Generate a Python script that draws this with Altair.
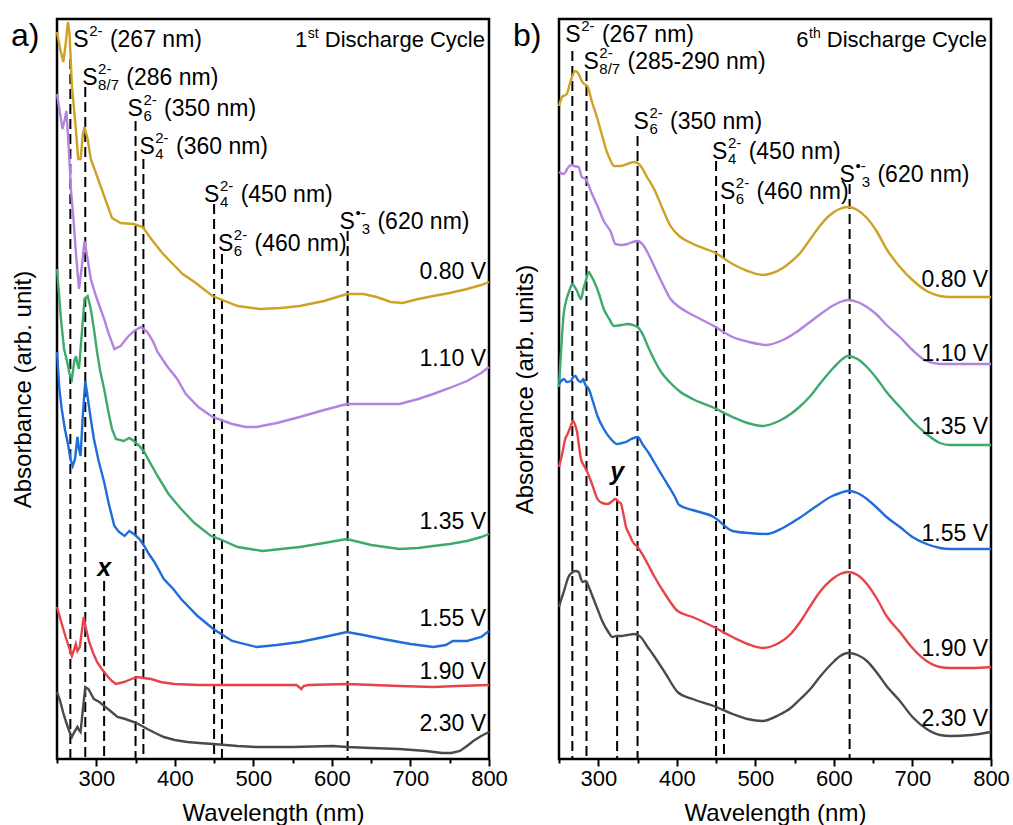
import altair as alt
import pandas as pd

FONT = "Liberation Sans"

VOLTAGES = ["0.80 V", "1.10 V", "1.35 V", "1.55 V", "1.90 V", "2.30 V"]
COLORS = ["#CFA125", "#B482E0", "#3DAA6B", "#1F6CDB", "#E8434A", "#4A4A4A"]

# ---- 1st discharge cycle: wavelength (nm) and stacked absorbance (arb. unit) ----
a080_wl = [250, 254, 258, 261, 264, 266, 269, 274, 277, 280, 283, 285, 289, 293, 300, 310, 320, 331, 348, 359, 370, 384, 395, 410, 425, 448, 480, 508, 535, 559, 590, 619, 640, 657, 675, 690, 710, 729, 750, 772, 790, 800]
a080_ab = [727, 710, 697, 715, 737, 725, 673, 630, 600, 600, 625, 632, 620, 600, 585, 563, 541, 536, 535, 532, 520, 506, 497, 485, 477, 463, 453, 450, 451, 453, 458, 465, 465, 462, 457, 456, 460, 463, 466, 470, 474, 477]

a110_wl = [250, 254, 257, 260, 262, 265, 268, 271, 274, 278, 282, 285, 289, 293, 300, 310, 316, 323, 331, 340, 348, 357, 365, 372, 378, 390, 403, 414, 430, 448, 473, 490, 504, 530, 559, 590, 619, 650, 686, 710, 729, 750, 772, 790, 800]
a110_ab = [665, 645, 630, 640, 648, 610, 567, 540, 507, 470, 495, 518, 500, 480, 462, 440, 425, 410, 413, 422, 428, 432, 427, 418, 407, 393, 380, 365, 352, 342, 335, 332, 332, 336, 342, 349, 355, 355, 355, 360, 365, 371, 378, 386, 392]

a135_wl = [250, 255, 259, 263, 266, 269, 272, 274, 276, 278, 282, 285, 289, 293, 297, 301, 305, 310, 316, 320, 325, 335, 342, 348, 355, 361, 368, 378, 392, 408, 425, 446, 457, 480, 512, 535, 559, 590, 619, 650, 686, 710, 729, 750, 772, 790, 800]
a135_ab = [490, 440, 410, 397, 385, 380, 398, 403, 395, 390, 430, 460, 463, 450, 430, 407, 388, 370, 345, 330, 320, 318, 321, 318, 313, 307, 297, 283, 265, 250, 236, 223, 220, 212, 208, 210, 212, 216, 220, 214, 210, 211, 213, 215, 218, 222, 225]

a155_wl = [250, 253, 256, 260, 264, 267, 270, 273, 276, 278, 280, 283, 286, 289, 293, 297, 303, 310, 316, 323, 329, 336, 342, 348, 355, 361, 367, 374, 386, 398, 408, 429, 449, 473, 504, 530, 559, 590, 619, 640, 665, 700, 729, 745, 754, 772, 790, 800]
a155_ab = [407, 370, 350, 330, 315, 300, 293, 300, 322, 310, 303, 345, 378, 362, 340, 320, 298, 277, 255, 233, 227, 223, 228, 225, 220, 213, 205, 197, 180, 170, 160, 143, 130, 118, 112, 114, 117, 122, 127, 124, 120, 115, 112, 114, 118, 118, 122, 128]

a190_wl = [250, 255, 261, 266, 269, 272, 274, 276, 279, 282, 284, 287, 291, 296, 301, 307, 314, 320, 325, 335, 345, 352, 360, 370, 382, 399, 431, 480, 530, 555, 558, 561, 564, 570, 619, 686, 729, 760, 800]
a190_ab = [152, 138, 122, 110, 103, 110, 115, 108, 112, 130, 142, 130, 117, 106, 97, 90, 83, 78, 75, 77, 80, 82, 81, 80, 77, 75, 74, 74, 74, 74, 72, 70, 73, 74, 75, 73, 72, 73, 74]

a230_wl = [250, 254, 258, 262, 266, 269, 272, 276, 278, 280, 283, 286, 290, 297, 304, 310, 318, 327, 337, 348, 356, 365, 375, 386, 400, 416, 431, 449, 480, 504, 550, 601, 619, 650, 686, 720, 740, 752, 763, 772, 780, 790, 800]
a230_ab = [67, 58, 46, 36, 27, 22, 27, 32, 29, 27, 50, 72, 70, 60, 57, 53, 48, 42, 40, 37, 34, 30, 26, 22, 19, 17, 16, 15, 13, 12, 12, 13, 12, 11, 10, 8, 6, 6, 8, 13, 18, 23, 27]

# ---- 6th discharge cycle ----
b080_wl = [250, 254, 260, 264, 267, 271, 275, 279, 282, 286, 292, 299, 305, 311, 316, 320, 328, 337, 346, 354, 362, 371, 382, 392, 403, 413, 430, 447, 471, 490, 509, 522, 535, 545, 556, 570, 582, 595, 607, 618, 630, 642, 655, 667, 684, 700, 718, 735, 748, 775, 800]
b080_ab = [653, 662, 665, 676, 683, 688, 685, 678, 675, 673, 657, 640, 623, 607, 598, 593, 593, 595, 597, 593, 582, 570, 550, 533, 523, 518, 512, 507, 495, 488, 484, 486, 491, 497, 505, 520, 533, 544, 550, 552, 549, 541, 527, 510, 492, 479, 468, 463, 462, 462, 462]

b110_wl = [250, 256, 262, 266, 269, 275, 279, 284, 291, 299, 307, 316, 322, 330, 337, 344, 350, 358, 365, 371, 382, 392, 403, 413, 430, 447, 471, 492, 514, 535, 556, 578, 598, 608, 618, 630, 642, 655, 667, 684, 700, 718, 735, 748, 775, 800]
b110_ab = [587, 585, 592, 594, 593, 592, 582, 580, 567, 553, 538, 527, 515, 514, 515, 517, 518, 513, 503, 493, 475, 460, 452, 447, 440, 433, 422, 417, 414, 419, 429, 442, 453, 457, 459, 457, 452, 444, 434, 422, 409, 398, 395, 395, 395, 395]

b135_wl = [250, 252, 254, 256, 259, 263, 267, 270, 273, 278, 281, 284, 288, 291, 295, 301, 307, 314, 320, 330, 337, 344, 350, 357, 363, 372, 380, 392, 403, 420, 445, 471, 490, 509, 530, 545, 556, 570, 582, 598, 608, 618, 630, 642, 655, 667, 684, 700, 718, 735, 748, 775, 800]
b135_ab = [372, 400, 425, 445, 458, 468, 475, 472, 468, 460, 470, 478, 487, 483, 477, 465, 450, 440, 433, 434, 435, 434, 432, 424, 413, 398, 387, 376, 368, 360, 352, 342, 336, 333, 338, 345, 352, 363, 375, 390, 398, 403, 400, 392, 380, 367, 352, 338, 325, 316, 314, 314, 314]

b155_wl = [250, 253, 256, 260, 265, 268, 271, 274, 278, 281, 283, 288, 293, 299, 307, 316, 324, 330, 335, 342, 350, 357, 365, 371, 384, 397, 403, 420, 447, 471, 492, 514, 535, 556, 578, 598, 608, 618, 630, 642, 655, 667, 684, 700, 718, 735, 748, 775, 800]
b155_ab = [375, 378, 380, 377, 378, 382, 383, 379, 377, 380, 375, 370, 358, 343, 330, 320, 315, 316, 317, 320, 322, 314, 305, 297, 280, 263, 254, 249, 242, 228, 226, 225, 231, 241, 253, 263, 266, 268, 266, 260, 251, 242, 232, 222, 215, 211, 210, 210, 210]

b190_wl = [250, 254, 258, 261, 265, 268, 271, 273, 276, 278, 282, 286, 292, 299, 305, 312, 318, 322, 326, 329, 332, 335, 340, 344, 350, 356, 363, 371, 385, 401, 420, 447, 471, 490, 509, 530, 545, 556, 570, 582, 598, 608, 618, 630, 642, 655, 667, 684, 700, 718, 735, 748, 775, 800]
b190_ab = [292, 305, 320, 325, 333, 338, 333, 327, 310, 300, 293, 287, 275, 260, 256, 255, 258, 260, 257, 255, 245, 233, 224, 217, 212, 205, 195, 183, 165, 148, 142, 132, 122, 115, 111, 116, 125, 136, 153, 167, 180, 185, 187, 184, 175, 160, 143, 127, 111, 98, 92, 91, 91, 92]

b230_wl = [250, 253, 256, 259, 262, 266, 271, 275, 278, 280, 284, 288, 293, 299, 305, 312, 318, 323, 329, 337, 346, 354, 362, 371, 386, 401, 420, 447, 471, 490, 509, 530, 545, 556, 570, 582, 598, 608, 618, 630, 642, 655, 667, 684, 700, 718, 735, 748, 775, 800]
b230_ab = [152, 160, 167, 175, 182, 186, 188, 187, 180, 177, 178, 172, 162, 150, 138, 128, 122, 123, 123, 124, 125, 122, 113, 103, 85, 67, 60, 53, 45, 40, 38, 44, 51, 59, 70, 82, 96, 103, 106, 104, 98, 86, 73, 58, 42, 30, 24, 23, 24, 27]

SERIES_A = [(a080_wl, a080_ab), (a110_wl, a110_ab), (a135_wl, a135_ab),
            (a155_wl, a155_ab), (a190_wl, a190_ab), (a230_wl, a230_ab)]
SERIES_B = [(b080_wl, b080_ab), (b110_wl, b110_ab), (b135_wl, b135_ab),
            (b155_wl, b155_ab), (b190_wl, b190_ab), (b230_wl, b230_ab)]

# Marker lines: wavelength and the height where each dashed line stops
LINES_A_WL = [267, 286, 310, 350, 360, 450, 460, 620]
LINES_A_TOP = [700, 672, 178, 638, 600, 555, 505, 528]
LINES_B_WL = [267, 285, 324, 350, 450, 460, 620]
LINES_B_TOP = [708, 688, 273, 623, 598, 555, 575]

# Species labels: line wavelength, pixel nudge of the "S", baseline height, sup, sub, rest
LABELS_A = [
    (267, 3, 712, "2-", "", "(267 nm)"),
    (286, -3, 674, "2-", "8/7", "(286 nm)"),
    (350, -8, 643, "2-", "6", "(350 nm)"),
    (360, -4, 605, "2-", "4", "(360 nm)"),
    (450, -10, 557, "2-", "4", "(450 nm)"),
    (460, -4, 508, "2-", "6", "(460 nm)"),
    (620, -8, 530, "\u2022-", "3", "(620 nm)"),
]
LABELS_B = [
    (267, -7, 717, "2-", "", "(267 nm)"),
    (285, -3, 690, "2-", "8/7", "(285-290 nm)"),
    (350, -4, 630, "2-", "6", "(350 nm)"),
    (450, -4, 600, "2-", "4", "(450 nm)"),
    (460, -4, 560, "2-", "6", "(460 nm)"),
    (620, -10, 577, "\u2022-", "3", "(620 nm)"),
]

# Voltage tags at the right edge (baseline heights)
VTAG_A = [480, 393, 230, 133, 80, 28]
VTAG_B = [472, 398, 325, 218, 103, 33]

W_PX, H_PX = 432, 740
X_DOM, Y_DOM = [250, 800], [0, 740]
NM_PER_PX = (X_DOM[1] - X_DOM[0]) / W_PX
AB_PER_PX = (Y_DOM[1] - Y_DOM[0]) / H_PX

# Arial / Liberation Sans advance widths (em)
WIDTH = {c: 0.556 for c in "0123456789"}
WIDTH.update({" ": 0.278, "(": 0.333, ")": 0.333, "n": 0.556, "m": 0.833, "S": 0.667,
              "-": 0.333, "/": 0.278, "\u2022": 0.35, "s": 0.5, "t": 0.278, "h": 0.556,
              "D": 0.722, "i": 0.222, "c": 0.5, "a": 0.556, "r": 0.333, "g": 0.556,
              "e": 0.556, "C": 0.722, "y": 0.5, "l": 0.222, ".": 0.278, "V": 0.667})


def tw(s, size):
    return sum(WIDTH.get(ch, 0.556) for ch in s) * size


BIG, SMALL = 23, 15


def piece(wl, ab, dx, dy, fs, txt):
    # shift an anchor (data units) by a pixel nudge
    return {"wl": wl + dx * NM_PER_PX, "ab": ab - dy * AB_PER_PX, "fs": fs, "txt": txt}


def curves_frame(series):
    rows = []
    for volt, (wl, ab) in zip(VOLTAGES, series):
        for w, a in zip(wl, ab):
            rows.append({"wl": w, "ab": a, "voltage": volt})
    return pd.DataFrame(rows)


def lines_frame(wls, tops):
    return pd.DataFrame({"wl": wls, "ab": tops, "ab2": [0] * len(wls)})


def left_text_frame(labels, letter):
    rows = [piece(250, 713, -46, 0, 32, letter)]
    sw = tw("S", BIG)
    for wl, nudge, base, sup, sub, rest in labels:
        rows.append(piece(wl, base, nudge, 0, BIG, "S"))
        rows.append(piece(wl, base, nudge + sw + 0.5, -11, SMALL, sup))
        sub_dx = sw + 0.5
        if sup.startswith("\u2022"):
            sub_dx += tw("\u2022", SMALL) + 1
        if sub:
            rows.append(piece(wl, base, nudge + sub_dx, 5, SMALL, sub))
        script_w = max(sw + 0.5 + tw(sup, SMALL), sub_dx + tw(sub, SMALL))
        rows.append(piece(wl, base, nudge + script_w + tw(" ", BIG) + 1, 0, BIG, rest))
    return pd.DataFrame(rows)


def right_text_frame(tags, number, suffix):
    rows = [piece(800, h, -3, 0, BIG, volt) for volt, h in zip(VOLTAGES, tags)]
    head = 712
    tail = "Discharge Cycle"
    rows.append(piece(800, head, -4, 0, 22, tail))
    off = -4 - tw(" " + tail, 22)
    rows.append(piece(800, head, off, -9, 14, suffix))
    off -= tw(suffix, 14) + 0.5
    rows.append(piece(800, head, off, 0, 22, number))
    return pd.DataFrame(rows)


def panel(series, lwl, ltop, labels, letter, tags, number, suffix, mark_wl, mark_h,
          mark_txt, ytitle, interp):
    xscale = alt.Scale(domain=X_DOM, nice=False, zero=False)
    yscale = alt.Scale(domain=Y_DOM, nice=False, zero=False)
    xaxis = alt.Axis(
        title="Wavelength (nm)", values=list(range(250, 801, 50)),
        labelExpr="datum.value % 100 === 0 ? datum.label : ''",
        tickSize={"condition": {"test": "datum.value % 100 === 0", "value": 7}, "value": 4},
        labelFontSize=22, labelPadding=2, titlePadding=12, titleFontSize=24,
        labelOverlap=False, labelFlush=False)
    yaxis = alt.Axis(title=ytitle, labels=False, ticks=False, domain=False,
                     titlePadding=22, titleFontSize=24)
    X = alt.X("wl:Q", scale=xscale, axis=xaxis)
    Y = alt.Y("ab:Q", scale=yscale, axis=yaxis)

    rules = alt.Chart(lines_frame(lwl, ltop)).mark_rule(
        color="black", strokeWidth=2, strokeDash=[10, 5]
    ).encode(x=X, y=Y, y2="ab2:Q")
    curves = alt.Chart(curves_frame(series)).mark_line(
        strokeWidth=2.4, interpolate=interp
    ).encode(
        x=X, y=Y,
        color=alt.Color("voltage:N", scale=alt.Scale(domain=VOLTAGES, range=COLORS), legend=None),
    )
    left_txt = alt.Chart(left_text_frame(labels, letter)).mark_text(
        align="left", baseline="alphabetic", font=FONT, color="black"
    ).encode(x=X, y=Y, size=alt.Size("fs:Q", scale=None, legend=None), text="txt:N")
    right_txt = alt.Chart(right_text_frame(tags, number, suffix)).mark_text(
        align="right", baseline="alphabetic", font=FONT, color="black"
    ).encode(x=X, y=Y, size=alt.Size("fs:Q", scale=None, legend=None), text="txt:N")
    marker = alt.Chart(pd.DataFrame({"wl": [mark_wl], "ab": [mark_h], "txt": [mark_txt]})).mark_text(
        align="center", baseline="alphabetic", font=FONT, fontSize=25,
        fontStyle="italic", fontWeight="bold", color="black"
    ).encode(x=X, y=Y, text="txt:N")
    return alt.layer(rules, curves, left_txt, right_txt, marker).properties(width=W_PX, height=H_PX)


panel_a = panel(SERIES_A, LINES_A_WL, LINES_A_TOP, LABELS_A, "a)", VTAG_A, "1", "st",
                310, 183, "x", "Absorbance (arb. unit)", "linear")
panel_b = panel(SERIES_B, LINES_B_WL, LINES_B_TOP, LABELS_B, "b)", VTAG_B, "6", "th",
                324, 279, "y", "Absorbance (arb. units)", "monotone")

chart = alt.hconcat(panel_a, panel_b, spacing=2).properties(
    padding={"left": 9, "top": 15, "right": 0, "bottom": 0}
).configure_view(
    stroke="black", strokeWidth=2.5
).configure_axis(
    labelFont=FONT, titleFont=FONT, labelColor="black", titleColor="black",
    titleFontWeight="normal", tickColor="black", tickWidth=2, grid=False, domain=False
)

chart.save("out.html", embed_options={"renderer": "svg", "actions": False})
